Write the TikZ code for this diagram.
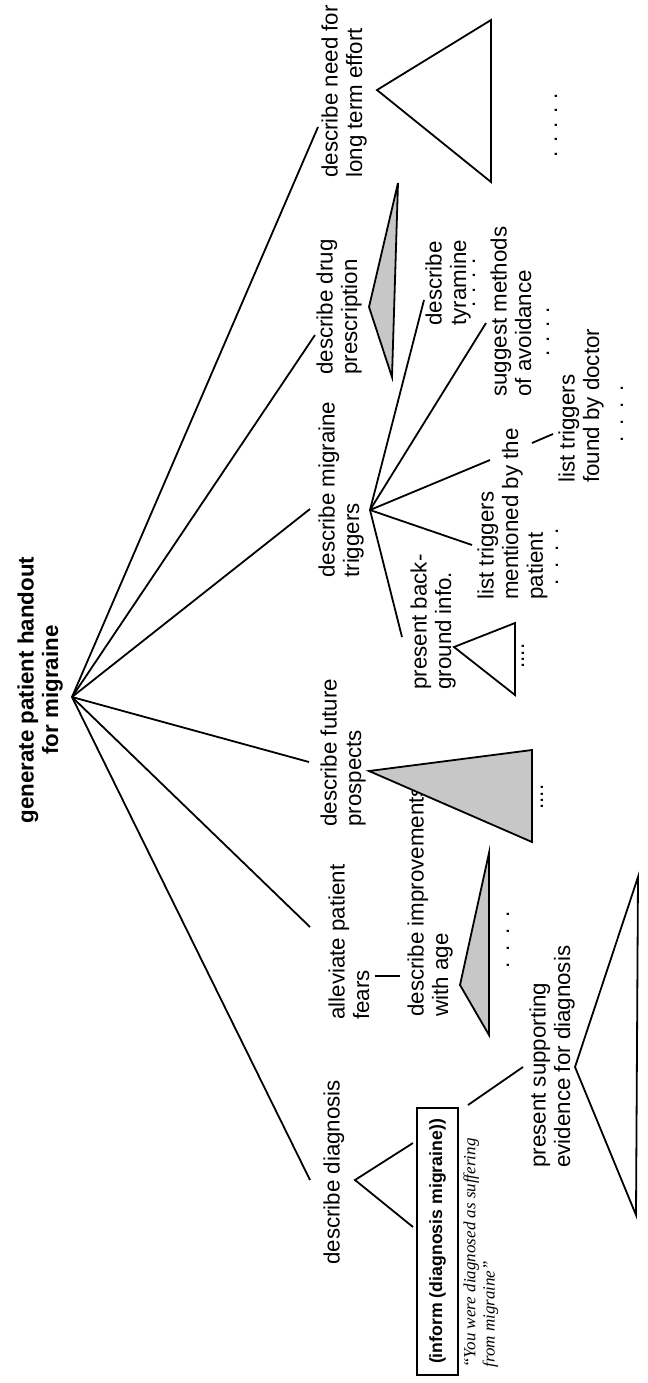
\documentclass[tikz,border=0pt]{standalone}
\usepackage{fontspec}
\setmainfont{Liberation Sans}
\newfontfamily\serifquote{Liberation Serif}
\usetikzlibrary{positioning}
\newcommand{\goalfont}{\fontsize{11.15pt}{12.3pt}\selectfont}
\newcommand{\actfont}{\fontsize{8.85pt}{10pt}\selectfont\bfseries}
\newcommand{\utterfont}{\serifquote\itshape\fontsize{8.5pt}{9.6pt}\selectfont}
\newcommand{\widedots}{.\kern5.4pt.\kern5.4pt.\kern5.4pt.}
\tikzset{
  goal/.style    = {rotate=90, anchor=north west, inner sep=0pt, align=left, font=\goalfont},
  topgoal/.style = {goal, anchor=north, align=center, font=\goalfont\bfseries},
  act/.style     = {draw, rotate=90, line width=0.6pt, inner sep=0pt,
                    minimum width=133.5pt, minimum height=20.5pt, font=\actfont},
  utter/.style   = {rotate=90, anchor=north west, inner sep=0pt, align=left, font=\utterfont},
  more/.style    = {rotate=90, inner sep=0pt, font=\goalfont},
  link/.style    = {line width=0.9pt},
  subtree/.style = {draw, line width=0.9pt, fill=white},
  partial/.style = {subtree, fill=black!22}
}

\begin{document}
\begin{tikzpicture}[x=0.5pt,y=-0.5pt]
\fill[white] (0,0) rectangle (648,1383);
\useasboundingbox (0,0) rectangle (648,1383);

% goals
\node[topgoal] (handout) at (17,690) {generate patient handout\\for migraine};
\node[goal] (need)    at (321,178)  {describe need for\\long term effort};
\node[goal] (drug)    at (316,375)  {describe drug\\prescription};
\node[goal] (trig)    at (318,578)  {describe migraine\\triggers};
\node[goal] (future)  at (320,827)  {describe future\\prospects};
\node[goal] (fears)   at (328,1020) {alleviate patient\\fears};
\node[goal] (diag)    at (323,1265) {describe diagnosis};
\node[goal] (bg)      at (410,690)  {present back-\\ground info.};
\node[goal] (mention) at (477,600)  {list triggers\\mentioned by the\\patient};
\node[goal] (tyr)     at (425,326)  {describe\\tyramine};
\node[goal] (suggest) at (490,397)  {suggest methods\\of avoidance};
\node[goal] (found)   at (558,483)  {list triggers\\found by doctor};
\node[goal] (improve) at (407,1017) {describe improvements\\with age};
\node[goal] (support) at (529,1168) {present supporting\\evidence for diagnosis};
\node[act] (inform) at (437.5,1241.5) {(inform (diagnosis migraine))};
\node[utter] (says) at (463,1368) {“You were diagnosed as suffering\\from migraine”};

% dots
\node[more] (need-more)    at (556,125) {. . . . .};
\node[more] (tyr-more)     at (474,283) {. . . .};
\node[more] (suggest-more) at (548,332) {. . . .};
\node[more] (found-more)   at (622,414) {\widedots};
\node[more] (mention-more) at (557,557) {\widedots};
\node[more] (bg-more)      at (523,656) {....};
\node[more] (future-more)  at (542,797) {....};
\node[more] (improve-more) at (508,940) {\widedots};

% connector ends
\coordinate (root)       at (72,697);
\coordinate (need-in)    at (318,127);
\coordinate (drug-in)    at (315,335);
\coordinate (trig-in)    at (310,509);
\coordinate (future-in)  at (309,762);
\coordinate (fears-in)   at (310,927);
\coordinate (diag-in)    at (310,1180);
\coordinate (trig-out)   at (370,510);
\coordinate (bg-in)      at (402,637);
\coordinate (mention-in) at (472,545);
\coordinate (gap-lo)     at (490,460);
\coordinate (gap-hi)     at (532,443);
\coordinate (found-in)   at (553,434);
\coordinate (suggest-in) at (486,323);
\coordinate (tyr-in)     at (424,300);
\coordinate (fears-out)  at (375,976);
\coordinate (improve-in) at (400,976);
\coordinate (diag-out)   at (355,1180);
\coordinate (inform-a)   at (413,1143);
\coordinate (inform-b)   at (413,1227);
\coordinate (inform-out) at (468,1105);
\coordinate (support-in) at (523,1067);

\foreach \c in {need,drug,trig,future,fears,diag}
  \draw[link] (root) -- (\c-in);
\foreach \c in {bg-in,mention-in,gap-lo,suggest-in,tyr-in}
  \draw[link] (trig-out) -- (\c);
\draw[link] (gap-hi) -- (found-in);
\draw[link] (fears-out) -- (improve-in);
\draw[link] (inform-a) -- (diag-out) -- (inform-b);
\draw[link] (inform-out) -- (support-in);

% subtrees
\draw[subtree] (377,90) -- (491,20) -- (491,182) -- cycle;
\draw[partial] (369,307) -- (398,183) -- (392,377) -- cycle;
\draw[subtree] (454,647) -- (515,623) -- (515,695) -- cycle;
\draw[partial] (369,771) -- (532,750) -- (532,842) -- cycle;
\draw[partial] (460,985) -- (489,853) -- (489,1035) -- cycle;
\draw[subtree] (575,1067) -- (638,877) -- (636,1215) -- cycle;
\end{tikzpicture}
\end{document}
